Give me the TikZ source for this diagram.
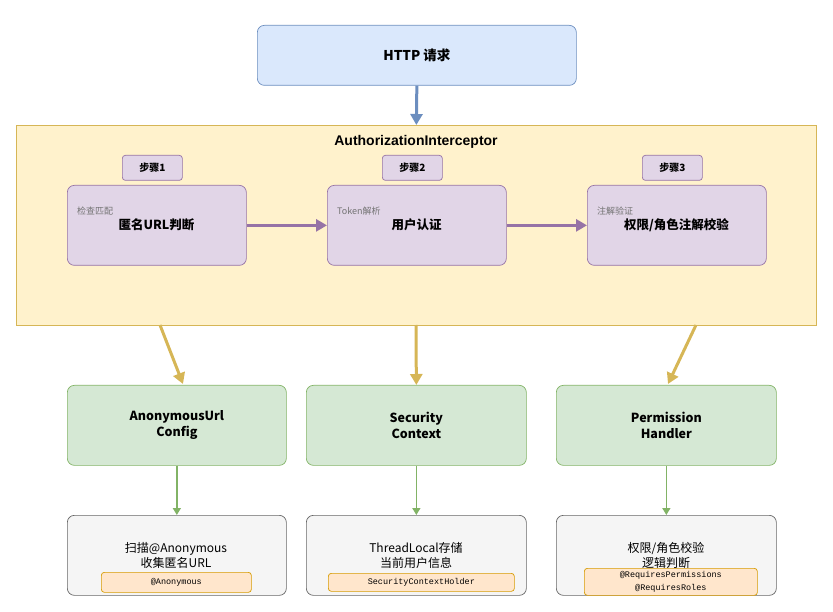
\documentclass[tikz,border=0pt]{standalone}
\usepackage{fontspec}
\setmainfont{Liberation Sans}
\newfontfamily\cjk{Noto Sans CJK SC}
\newfontfamily\mono{Liberation Mono}
\usetikzlibrary{arrows.meta}
\definecolor{bF}{HTML}{DAE8FC}\definecolor{bS}{HTML}{6C8EBF}
\definecolor{yF}{HTML}{FFF2CC}\definecolor{yS}{HTML}{D6B656}
\definecolor{pF}{HTML}{E1D5E7}\definecolor{pS}{HTML}{9673A6}
\definecolor{gF}{HTML}{D5E8D4}\definecolor{gS}{HTML}{82B366}
\definecolor{wF}{HTML}{F5F5F5}\definecolor{wS}{HTML}{666666}
\definecolor{oF}{HTML}{FFE6CC}\definecolor{oS}{HTML}{D79B00}
\tikzset{
 box/.style={draw, rounded corners=7pt, line width=0.7pt, anchor=north west, inner sep=0pt},
 arr/.style={-{Triangle[length=11pt,width=12pt]}, line width=3pt},
 garr/.style={-{Triangle[length=7pt,width=8pt]}, line width=1.5pt, draw=gS},
 t/.style={font=\cjk\fontsize{12}{15}\selectfont, align=center},
 tb/.style={font=\cjk\bfseries\fontsize{12.5}{16}\selectfont, align=center},
 code/.style={draw=oS, fill=oF, rounded corners=3pt, line width=0.7pt, font=\mono\fontsize{8.5}{13}\selectfont, align=center, inner sep=0pt, anchor=north west},
}
\begin{document}
\begin{tikzpicture}[x=1pt,y=-1pt]
\useasboundingbox (0,0) rectangle (833,612);
% HTTP
\node[box, fill=bF, draw=bS, minimum width=319pt, minimum height=60pt] (http) at (257,25) {};
\node[tb, font=\cjk\bfseries\fontsize{13.5}{16}\selectfont] at (http.center) {HTTP 请求};
% container
\node[draw=yS, fill=yF, line width=0.7pt, anchor=north west, minimum width=800pt, minimum height=200pt, inner sep=0pt] (cont) at (16,125) {};
\node[tb, font=\bfseries\fontsize{14}{16}\selectfont] at (416,142) {AuthorizationInterceptor};
\draw[arr, draw=bS] (http.south) -- (cont.north);
% steps
\foreach \i/\x/\lab/\small/\main in {1/67/步骤1/检查匹配/匿名URL判断, 2/327/步骤2/Token解析/用户认证, 3/587/步骤3/注解验证/{权限/角色注解校验}}{
  \node[box, rounded corners=3pt, fill=pF, draw=pS, minimum width=60pt, minimum height=25pt, tb, font=\cjk\bfseries\fontsize{10}{12}\selectfont] (l\i) at (\x+55,155) {\lab};
  \node[box, fill=pF, draw=pS, minimum width=179pt, minimum height=80pt] (s\i) at (\x,185) {};
  \node[anchor=west, text=black!55, font=\cjk\fontsize{9}{11}\selectfont, inner sep=0pt] at (\x+10,211) {\small};
  \node[tb] at (\x+89.5,225) {\main};
}
\draw[arr, draw=pS] (s1.east) -- (s2.west);
\draw[arr, draw=pS] (s2.east) -- (s3.west);
% green
\node[box, fill=gF, draw=gS, minimum width=219pt, minimum height=80pt, tb] (g1) at (67,385) {AnonymousUrl\\Config};
\node[box, fill=gF, draw=gS, minimum width=220pt, minimum height=80pt, tb] (g2) at (306,385) {Security\\Context};
\node[box, fill=gF, draw=gS, minimum width=220pt, minimum height=80pt, tb] (g3) at (556,385) {Permission\\Handler};
\coordinate (c1) at (160,325); \coordinate (c2) at (416,325); \coordinate (c3) at (696,325);
\coordinate (e1) at (183,384); \coordinate (e3) at (668,384);
\draw[arr, draw=yS] (c1) -- (e1);
\draw[arr, draw=yS] (c2) -- (g2.north);
\draw[arr, draw=yS] (c3) -- (e3);
% bottom
\node[box, fill=wF, draw=wS, minimum width=219pt, minimum height=80pt] (w1) at (67,515) {};
\node[box, fill=wF, draw=wS, minimum width=220pt, minimum height=80pt] (w2) at (306,515) {};
\node[box, fill=wF, draw=wS, minimum width=220pt, minimum height=80pt] (w3) at (556,515) {};
\draw[garr] (g1.south-|w1.center) -- (w1.north);
\draw[garr] (g2.south) -- (w2.north);
\draw[garr] (g3.south-|w3.center) -- (w3.north);
\node[t] at (176,555) {扫描@Anonymous\\收集匿名URL};
\node[t] at (416,555) {ThreadLocal存储\\当前用户信息};
\node[t] at (666,555) {权限/角色校验\\逻辑判断};
\node[code, minimum width=150pt, minimum height=20pt] (k1) at (101,572) {@Anonymous};
\node[code, minimum width=186pt, minimum height=18pt] (k2) at (328,573) {SecurityContextHolder};
\node[code, minimum width=173pt, minimum height=27pt] (k3) at (584,568) {@RequiresPermissions\\@RequiresRoles};
\end{tikzpicture}
\end{document}
